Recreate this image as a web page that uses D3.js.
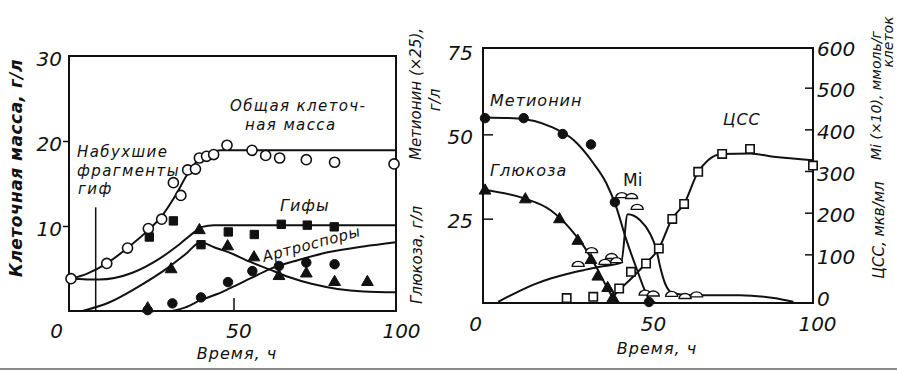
<!DOCTYPE html>
<html>
<head>
<meta charset="utf-8">
<script src="https://cdn.jsdelivr.net/npm/d3@7"></script>
<style>
body { margin: 0; background: #fff; }
text { font-family: "DejaVu Sans", sans-serif; font-style: italic; fill: #111; }
.num { font-family: "Liberation Sans", sans-serif; font-size: 20px; }
.domain { display: none; }
</style>
</head>
<body>
<div id="chart-area"></div>
<script>
/*
*    two panels: cell mass / methionine, glucose, Mi, CSS vs time
*/

// ---------- left panel: points [t, value] ----------
let totalMassPts = [[0,3.8],[11,5.6],[17.4,7.4],[23.8,9.7],[27.9,10.8],[31.5,15.1],[33.8,13.6],
    [35.9,16.6],[38.3,16.7],[39.5,18.0],[41.7,18.2],[43.9,18.4],[48,19.5],[55.7,18.9],[59.9,18.3],
    [64.2,18.0],[72.4,17.8],[81.1,17.5],[99.4,17.3]];
let hyphaePts = [[24.1,8.7],[31.5,10.6],[40,7.8],[48.4,9.3],[56.4,9.0],[64.7,10.2],[72.7,10.1],[81,9.9]];
let trianglePts = [[23.6,0.3],[30.8,4.9],[39.5,9.5],[48.2,7.6],[56.3,6.3],[64,4.1],[72.4,4.4],[81.1,3.4],[91.2,3.4]];
let arthroPts = [[23.6,0.1],[31.2,0.9],[40,1.6],[48.3,3.4],[55.8,4.7],[64,5.3],[72.4,5.7],[81.1,5.5]];

// fitted curves
let totalMassCurve = [[0,3.8],[5,4.4],[11,5.6],[17,7.3],[24,9.6],[28,11.2],[32,13.5],[36,16.2],
    [39,17.7],[42,18.5],[46,18.9],[60,18.9],[100,18.9]];
let hyphaeCurve = [[0,3.8],[8.6,3.7],[18.9,4.5],[27,6.1],[33.2,7.8],[38.4,9.4],[40.4,9.9],[44,10.1],[100,10.1]];
let triangleCurve = [[3.5,0],[11.7,1.0],[20.9,2.9],[29.1,4.9],[35.3,6.7],[39.9,8.1],[44,7.5],[48.6,6.9],
    [55,5.8],[61,4.9],[67,4.0],[74,3.2],[82,2.6],[90,2.3],[100,2.2]];
let arthroCurve = [[0,0],[30,0],[35,0.4],[40,1.3],[45,2.0],[49,2.7],[55,3.8],[61,4.9],[70,6.0],[79,6.9],[90,7.6],[100,8.1]];
let swollenMark = [7.6, 12.2];   // pointer for "Набухшие фрагменты гиф"

// ---------- right panel ----------
let methioninePts = [[0,54.8],[11.8,54.8],[23.7,50.1],[32.3,47],[39.6,29.9],[50,0.3]];
let glucosePts = [[0,33.3],[12.3,30.7],[22.7,24.8],[28.3,18.4],[32.3,12.7],[34.4,7.8],[37.4,4.4],[39,1.4]];
let miPts = [[28.4,77],[32.5,110],[36.6,82],[38.6,96],[40.1,86],[41.7,242],[44.7,240],[46.4,214],
    [48.8,8],[51.3,6],[56.9,5],[61,0],[64.5,4]];
let cssPts = [[24.9,-5],[33,-2],[40.9,18],[44.5,58],[49.1,78],[53,114],[57.1,185],[60.7,221],
    [65,298],[72.3,341],[80.8,353],[100,313]];

let methionineCurve = [[0,55],[10,54.7],[20,52.3],[27,48.3],[33,41.5],[37,35.5],[40,28.5],[43,19],
    [46.3,10],[49.8,1.6],[52,0]];
let glucoseCurve = [[0,33.5],[12,31],[20,27.5],[26,22],[30,17],[34,10.5],[37,5],[39.5,1],[41,0]];
let miCurve = [[4,-14],[10,10],[15,28],[20,42],[25,53],[30,62],[35,70],[41.5,80],[43.5,196],[47.3,182],
    [50.3,150],[52.3,110],[53.4,70],[54.9,30],[57.4,6],[63.5,2],[77.7,2],[88,-5],[94,-14]];
let cssCurve = [[38,-10],[41,15],[45,45],[49,78],[53,114],[57,185],[60.7,221],[65,298],[68,326],
    [72.3,341],[80.8,342],[88,334],[100,326]];

let xTicks = [0, 50, 100];
let leftYTicks = [10, 20, 30];
let rightLeftTicks = [25, 50, 75];
let rightRightTicks = [0, 100, 200, 300, 400, 500, 600];

let svg = d3.select("#chart-area")
    .append("svg")
    .attr("width", 897)
    .attr("height", 371);

let g = svg.append("g");

// Scales
let xL = d3.scaleLinear().domain([0, 100]).range([71, 396]);
let yL = d3.scaleLinear().domain([0, 30]).range([311, 56]);
let xR = d3.scaleLinear().domain([0, 100]).range([485, 813]);
let yR = d3.scaleLinear().domain([0, 75]).range([303, 50]);
let yR2 = d3.scaleLinear().domain([0, 600]).range([296, 46]);

function frame(x0, x1, y0, y1) {
    g.append("rect")
        .attr("x", x0).attr("y", y0)
        .attr("width", x1 - x0).attr("height", y1 - y0)
        .attr("fill", "none").attr("stroke", "#111").attr("stroke-width", 2);
}
frame(69, 396, 56, 311);
frame(483, 813, 48, 303);

// ---------- axes ----------
let xAxisL = g.append("g")
    .attr("class", "num")
    .attr("transform", "translate(0,311)")
    .call(d3.axisBottom(xL).tickValues(xTicks).tickSize(0).tickPadding(13));
xAxisL.selectAll("text").attr("dx", function(d){ return d === 0 ? -15 : 5; });

// the single inner tick at 50
g.append("g")
    .attr("transform", "translate(0,311)")
    .call(d3.axisBottom(xL).tickValues([50]).tickSize(-13).tickFormat(""))
    .selectAll("line").attr("stroke", "#111").attr("stroke-width", 1.5);

let yAxisL = g.append("g")
    .attr("class", "num")
    .attr("transform", "translate(69,0)")
    .call(d3.axisLeft(yL).tickValues(leftYTicks).tickSizeInner(6).tickSizeOuter(0).tickPadding(1));
yAxisL.selectAll("line").attr("stroke", "#111").attr("stroke-width", 1.5)
    .filter(function(d){ return d === 30; }).remove();
yAxisL.selectAll("text").attr("dy", "0.45em");

let xAxisR = g.append("g")
    .attr("class", "num")
    .attr("transform", "translate(0,303)")
    .call(d3.axisBottom(xR).tickValues(xTicks).tickSize(0).tickPadding(14));
xAxisR.selectAll("text").attr("dx", function(d){ return d === 0 ? -10 : 4; });

let yAxisR = g.append("g")
    .attr("class", "num")
    .attr("transform", "translate(483,0)")
    .call(d3.axisLeft(yR).tickValues(rightLeftTicks).tickSizeInner(-10).tickSizeOuter(0).tickPadding(10));
yAxisR.selectAll("line").attr("stroke", "#111").attr("stroke-width", 1.5)
    .filter(function(d){ return d === 75; }).remove();
yAxisR.selectAll("text").attr("dy", "0.45em");

let yAxisR2 = g.append("g")
    .attr("class", "num")
    .attr("transform", "translate(813,0)")
    .call(d3.axisRight(yR2).tickValues(rightRightTicks).tickSizeInner(-8).tickSizeOuter(0).tickPadding(4));
yAxisR2.selectAll("line").attr("stroke", "#111").attr("stroke-width", 1.5)
    .filter(function(d){ return d === 0 || d === 600; }).remove();
yAxisR2.selectAll("text").attr("dy", "0.45em");

g.selectAll(".num text").style("fill", "#111");

// ---------- curves ----------
function curve(data, x, y) {
    g.append("path")
        .datum(data)
        .attr("fill", "none")
        .attr("stroke", "#111")
        .attr("stroke-width", 2)
        .attr("d", d3.line()
            .curve(d3.curveMonotoneX)
            .x(function(d){ return x(d[0]); })
            .y(function(d){ return y(d[1]); }));
}
curve(totalMassCurve, xL, yL);
curve(hyphaeCurve, xL, yL);
curve(triangleCurve, xL, yL);
curve(arthroCurve, xL, yL);
curve(methionineCurve, xR, yR);
curve(glucoseCurve, xR, yR);
curve(miCurve, xR, yR2);
curve(cssCurve, xR, yR2);

// pointer line
g.append("line")
    .attr("x1", xL(swollenMark[0])).attr("x2", xL(swollenMark[0]))
    .attr("y1", yL(swollenMark[1])).attr("y2", yL(0))
    .attr("stroke", "#111").attr("stroke-width", 1.5);

// ---------- markers ----------
let sym = {
    openCircle: d3.symbol().type(d3.symbolCircle).size(80),
    dot: d3.symbol().type(d3.symbolCircle).size(70),
    square: d3.symbol().type(d3.symbolSquare).size(70),
    triangle: d3.symbol().type(d3.symbolTriangle).size(60)
};

function markers(data, x, y, shape, filled) {
    g.append("g").selectAll("path")
        .data(data)
        .enter()
        .append("path")
            .attr("transform", function(d){ return "translate(" + x(d[0]) + "," + y(d[1]) + ")"; })
            .attr("d", sym[shape])
            .attr("fill", filled ? "#111" : "#fff")
            .attr("stroke", "#111")
            .attr("stroke-width", filled ? 1 : 1.6);
}
markers(hyphaePts, xL, yL, "square", true);
markers(trianglePts, xL, yL, "triangle", true);
markers(arthroPts, xL, yL, "dot", true);
markers(totalMassPts, xL, yL, "openCircle", false);

markers(methioninePts, xR, yR, "dot", true);
markers(glucosePts, xR, yR, "triangle", true);
markers(cssPts, xR, yR2, "square", false);

// Mi: little domes
g.append("g").selectAll("path")
    .data(miPts)
    .enter()
    .append("path")
        .attr("transform", function(d){ return "translate(" + xR(d[0]) + "," + (yR2(d[1]) + 2.5) + ")"; })
        .attr("d", "M-6,0 A6,5 0 0 1 6,0 Z")
        .attr("fill", "#fff")
        .attr("stroke", "#111")
        .attr("stroke-width", 1.4);

// ---------- labels ----------
function label(txt, x, y, size, opts) {
    opts = opts || {};
    let t = g.append("text")
        .attr("x", x).attr("y", y)
        .attr("font-size", size + "px")
        .attr("letter-spacing", (opts.ls === undefined ? 1 : opts.ls) + "px")
        .attr("text-anchor", opts.anchor || "start")
        .text(txt);
    if (opts.rotate !== undefined) {
        t.attr("transform", "rotate(" + opts.rotate + "," + x + "," + y + ")");
    }
    if (opts.upright) t.style("font-style", "normal");
    if (opts.weight) t.attr("font-weight", opts.weight);
    return t;
}

label("Общая клеточ-", 230, 111, 15, { ls: 1.4 });
label("ная масса", 245, 130, 15, { ls: 1.4 });
label("Набухшие", 77, 157, 15, { ls: 1.4 });
label("фрагменты", 77, 176, 15, { ls: 1.4 });
label("гиф", 78, 194, 15, { ls: 1.4 });
label("Гифы", 280, 211, 16);
label("Артроспоры", 264, 262, 15, { rotate: -15, ls: 0.5 });

label("Время, ч", 237, 359, 16, { anchor: "middle" });
label("Время, ч", 657, 354, 16, { anchor: "middle" });

label("Клеточная масса, г/л", 22, 168, 17, { anchor: "middle", rotate: -90, weight: "bold", ls: 0.5 });
label("Метионин (×25),", 421, 94, 15, { anchor: "middle", rotate: -90, ls: 0 });
label("г/л", 440, 100, 15, { anchor: "middle", rotate: -90, ls: 0 });
label("Глюкоза, г/л", 422, 255, 15, { anchor: "middle", rotate: -90, ls: 0 });

label("Метионин", 490, 106, 16);
label("Глюкоза", 490, 176, 16);
label("Mi", 623, 186, 17, { upright: true, ls: 0 });
label("ЦСС", 723, 125, 16);

label("Mi (×10), ммоль/г", 881, 160, 14, { rotate: -90, ls: 0 });
label("клеток", 893, 42, 14, { anchor: "middle", rotate: -90, ls: 0 });
label("ЦСС, мкв/мл", 884, 230, 15, { anchor: "middle", rotate: -90, ls: 0 });

// page rule at the bottom of the scan
svg.append("line")
    .attr("x1", 0).attr("x2", 897)
    .attr("y1", 369).attr("y2", 369)
    .attr("stroke", "#8a8a8a").attr("stroke-width", 2);
</script>
</body>
</html>
